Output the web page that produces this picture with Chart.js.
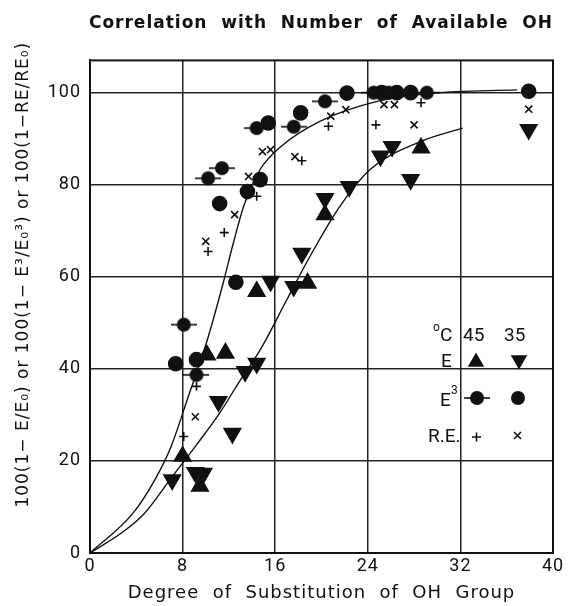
<!DOCTYPE html>
<html><head><meta charset="utf-8">
<script src="https://cdn.jsdelivr.net/npm/chart.js@4/dist/chart.umd.min.js"></script>
<style>html,body{margin:0;padding:0;background:#fff}#wrap{width:569px;height:606px}</style>
</head><body><div id="wrap"><canvas id="c" width="569" height="606"></canvas></div>
<script>
// ---- data ----
const xTickValues = [0, 8, 16, 24, 32, 40];
const yTickValues = [0, 20, 40, 60, 80, 100];

// E, 45 °C (up triangles)
const e45X = [8.0, 9.5, 10.1, 11.7, 14.4, 18.8, 20.3, 28.6];
const e45Y = [21.0, 14.5, 43.0, 43.4, 56.8, 58.6, 73.5, 88.0];
// E, 35 °C (down triangles)
const e35X = [7.1, 9.1, 9.8, 11.1, 12.3, 13.4, 14.4, 15.6, 17.6, 18.3, 20.3, 22.4, 25.1, 26.1, 27.7, 37.9];
const e35Y = [15.9, 17.5, 17.3, 32.9, 26.0, 39.4, 41.2, 59.0, 57.9, 65.1, 77.0, 79.6, 86.2, 88.3, 81.1, 92.0];
// E^3, 45 °C (circle with bar)
const e3_45X = [8.1, 9.2, 10.2, 11.4, 14.4, 17.6, 20.3, 24.5, 25.8, 29.1];
const e3_45Y = [49.6, 38.7, 81.4, 83.6, 92.3, 92.6, 98.1, 100.0, 100.0, 100.0];
// E^3, 35 °C (plain circle)
const e3_35X = [7.4, 9.2, 11.2, 12.6, 13.6, 14.7, 15.4, 18.2, 22.2, 25.2, 26.5, 27.7, 37.9];
const e3_35Y = [41.1, 42.0, 75.9, 58.8, 78.5, 81.1, 93.4, 95.6, 99.9, 100.0, 100.0, 100.0, 100.3];
// R.E., 45 °C (+)
const re45X = [8.1, 9.2, 10.2, 11.6, 14.4, 18.3, 20.6, 24.7, 28.6];
const re45Y = [25.3, 36.2, 65.5, 69.6, 77.5, 85.2, 92.7, 93.0, 97.8];
// R.E., 35 °C (x)
const re35X = [9.1, 10.0, 12.5, 13.7, 14.9, 15.6, 17.7, 20.8, 22.1, 25.4, 26.3, 28.0, 37.9];
const re35Y = [29.6, 67.7, 73.5, 81.8, 87.2, 87.6, 86.1, 94.9, 96.3, 97.4, 97.4, 93.0, 96.4];
// fitted curves as drawn
const curveAX = [0, 3.7, 5.6, 7.0, 8.4, 10.1, 11.5, 12.4, 13.3, 14.7, 16.5, 19.9, 24.8, 29.7, 36.9];
const curveAY = [0, 8.6, 15.9, 23.1, 33.3, 46.0, 58.6, 67.5, 75.5, 83.3, 88.3, 93.8, 98.1, 99.9, 100.6];
const curveBX = [0, 2.8, 4.7, 6.9, 9.2, 11.2, 13.0, 14.7, 17.0, 19.0, 21.4, 24.2, 28.6, 32.2];
const curveBY = [0, 4.5, 8.6, 15.9, 23.5, 30.4, 37.6, 44.1, 55.0, 64.4, 74.6, 83.3, 89.4, 92.3];

const pts = (xs, ys) => xs.map((x, i) => ({x: x, y: ys[i]}));

// circle-with-bar marker
function barCircle() {
  const c = document.createElement('canvas');
  c.width = 26; c.height = 16;
  const g = c.getContext('2d');
  g.fillStyle = '#111'; g.strokeStyle = '#111'; g.lineWidth = 1.6;
  g.beginPath(); g.moveTo(0, 8); g.lineTo(26, 8); g.stroke();
  g.beginPath(); g.arc(13, 8, 7, 0, Math.PI * 2); g.fill();
  return c;
}
const barImg = barCircle();
const INK = '#111';
const TICKFONT = 'Roboto';
const TITLEFONT = 'DejaVu Sans';

const frameAndLegend = {
  id: 'frameAndLegend',
  beforeDraw(chart) { chart.ctx.letterSpacing = '1px'; },
  afterDraw(chart) {
    const ctx = chart.ctx, a = chart.chartArea;
    ctx.save();
    ctx.strokeStyle = INK; ctx.lineWidth = 2;
    ctx.strokeRect(a.left, a.top, a.right - a.left, a.bottom - a.top);
    // legend
    ctx.fillStyle = INK; ctx.strokeStyle = INK;
    ctx.letterSpacing = '0px';
    ctx.textBaseline = 'middle'; ctx.textAlign = 'left';
    const big = '19px ' + TICKFONT, small = '12px ' + TICKFONT;
    ctx.font = small; ctx.fillText('o', 433, 328);
    ctx.font = big;
    ctx.fillText('C', 440, 336);
    ctx.fillText('45', 463, 336);
    ctx.fillText('35', 504, 336);
    ctx.fillText('E', 441, 362);
    ctx.fillText('E', 440, 401);
    ctx.font = small; ctx.fillText('3', 451, 391);
    ctx.font = big;
    ctx.fillText('R.E.', 428, 437);
    const tri = (x, y, r, down) => {
      const s = down ? -1 : 1;
      ctx.beginPath();
      ctx.moveTo(x, y - s * r);
      ctx.lineTo(x + r * 0.866, y + s * r * 0.5);
      ctx.lineTo(x - r * 0.866, y + s * r * 0.5);
      ctx.closePath(); ctx.fill();
    };
    tri(476, 362, 9.5, false);
    tri(519, 360, 9.5, true);
    ctx.drawImage(barImg, 464, 390);
    ctx.beginPath(); ctx.arc(518, 398, 7, 0, Math.PI * 2); ctx.fill();
    ctx.lineWidth = 1.6;
    ctx.beginPath(); ctx.moveTo(472, 437); ctx.lineTo(481, 437); ctx.moveTo(476.5, 432.5); ctx.lineTo(476.5, 441.5); ctx.stroke();
    ctx.beginPath(); ctx.moveTo(514, 432); ctx.lineTo(521, 439); ctx.moveTo(521, 432); ctx.lineTo(514, 439); ctx.stroke();
    ctx.restore();
  }
};

const sc = (extra) => Object.assign({
  showLine: false, backgroundColor: INK, borderColor: INK, borderWidth: 1.6
}, extra);

new Chart(document.getElementById('c'), {
  type: 'scatter',
  data: {
    datasets: [
      {type: 'line', label: 'curve A', data: pts(curveAX, curveAY), borderColor: INK, borderWidth: 1.4,
        pointRadius: 0, fill: false, cubicInterpolationMode: 'monotone'},
      {type: 'line', label: 'curve B', data: pts(curveBX, curveBY), borderColor: INK, borderWidth: 1.4,
        pointRadius: 0, fill: false, cubicInterpolationMode: 'monotone'},
      sc({label: 'E 45', data: pts(e45X, e45Y), pointStyle: 'triangle', pointRadius: 9.5}),
      sc({label: 'E 35', data: pts(e35X, e35Y), pointStyle: 'triangle', rotation: 180, pointRadius: 9.5}),
      sc({label: 'E3 45', data: pts(e3_45X, e3_45Y), pointStyle: barImg, pointRadius: 8}),
      sc({label: 'E3 35', data: pts(e3_35X, e3_35Y), pointStyle: 'circle', pointRadius: 7}),
      sc({label: 'RE 45', data: pts(re45X, re45Y), pointStyle: 'cross', pointRadius: 4.5, backgroundColor: 'transparent'}),
      sc({label: 'RE 35', data: pts(re35X, re35Y), pointStyle: 'crossRot', pointRadius: 5, backgroundColor: 'transparent'})
    ]
  },
  options: {
    responsive: false,
    animation: false,
    devicePixelRatio: 1,
    layout: {padding: {top: 10, right: 16, bottom: 0, left: 0}},
    plugins: {
      legend: {display: false},
      tooltip: {enabled: false},
      title: {display: true, text: 'Correlation  with  Number  of  Available  OH', color: INK,
        font: {family: TITLEFONT, size: 17}, padding: {top: 3, bottom: 27}, align: 'end'}
    },
    scales: {
      x: {
        type: 'linear', min: 0, max: 40,
        afterBuildTicks: s => { s.ticks = xTickValues.map(v => ({value: v})); },
        afterFit: s => { s.height = 53; },
        ticks: {color: INK, font: {family: TICKFONT, size: 18}, padding: 3},
        grid: {color: '#222', lineWidth: 1.5, drawTicks: false},
        border: {color: INK, width: 2},
        title: {display: true, text: 'Degree  of  Substitution  of  OH  Group', color: INK,
          font: {family: TITLEFONT, size: 18}, padding: {top: 0, bottom: 2}}
      },
      y: {
        type: 'linear', min: 0, max: 107,
        afterBuildTicks: s => { s.ticks = yTickValues.map(v => ({value: v})); },
        afterFit: s => { s.width = 90; },
        ticks: {color: INK, font: {family: TICKFONT, size: 18}, padding: 9},
        grid: {color: '#222', lineWidth: 1.5, drawTicks: false},
        border: {color: INK, width: 2},
        title: {display: true, text: '          100(1− E/E₀) or 100(1− E³/E₀³) or 100(1−RE/RE₀)', color: INK,
          font: {family: TITLEFONT, size: 17}, padding: {top: 13, bottom: 0}}
      }
    }
  },
  plugins: [frameAndLegend]
});
</script>
</body></html>
